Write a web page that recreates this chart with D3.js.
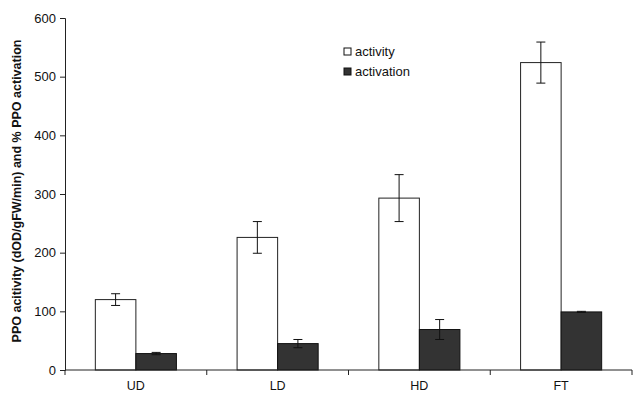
<!DOCTYPE html>
<html><head><meta charset="utf-8">
<script src="https://cdn.jsdelivr.net/npm/d3@7"></script>
<style>body{margin:0;background:#fff}text{font-family:Arial,"Liberation Sans",sans-serif}</style>
</head><body><svg id="c" width="633" height="394"></svg>
<script>
const categories = ["UD", "LD", "HD", "FT"];
const seriesNames = ["activity", "activation"];
const activity = [120, 226, 293, 524];
const activityErr = [10, 27, 40, 35];
const activation = [28, 45, 69, 99];
const activationErr = [2, 7, 17, 1];
const yTicks = [0, 100, 200, 300, 400, 500, 600];

const svg = d3.select("#c");
const m = {l: 65, r: 632, t: 18, b: 370};
const x = d3.scaleBand().domain(categories).range([m.l, m.r]).paddingInner(0.428).paddingOuter(0.214);
const xs = d3.scaleBand().domain(seriesNames).range([0, x.bandwidth()]);
const y = d3.scaleLinear().domain([0, 600]).range([m.b, m.t]);
const fills = {activity: "#ffffff", activation: "#333333"};
const strokes = {activity: "#222", activation: "#111"};
const data = {activity: [activity, activityErr], activation: [activation, activationErr]};

// y axis
const ya = svg.append("g").attr("transform", `translate(${m.l},0)`)
  .call(d3.axisLeft(y).tickValues(yTicks).tickSize(5).tickPadding(4));
ya.select(".domain").attr("stroke", "#222");
ya.selectAll(".tick line").attr("stroke", "#222");
ya.selectAll("text").attr("font-size", 13).attr("fill", "#111");

// bars
seriesNames.forEach(s => {
  const [vals, errs] = data[s];
  const g = svg.append("g");
  g.selectAll("rect").data(categories).join("rect")
    .attr("x", (c) => x(c) + xs(s))
    .attr("y", (c, i) => y(vals[i]))
    .attr("width", xs.bandwidth())
    .attr("height", (c, i) => y(0) - y(vals[i]))
    .attr("fill", fills[s]).attr("stroke", strokes[s]).attr("stroke-width", 1);
  categories.forEach((c, i) => {
    const cx = x(c) + xs(s) + xs.bandwidth() / 2;
    const y1 = y(vals[i] + errs[i]), y2 = y(vals[i] - errs[i]);
    g.append("line").attr("x1", cx).attr("x2", cx).attr("y1", y1).attr("y2", y2).attr("stroke", "#111");
    [y1, y2].forEach(yy => g.append("line").attr("x1", cx - 4.5).attr("x2", cx + 4.5)
      .attr("y1", yy).attr("y2", yy).attr("stroke", "#111"));
  });
});

// x axis
const step = x.step();
const xa = svg.append("g").attr("transform", `translate(0,${m.b})`);
xa.append("line").attr("x1", m.l).attr("x2", m.r).attr("y1", 0).attr("y2", 0).attr("stroke", "#222");
d3.range(categories.length + 1).forEach(i => {
  const tx = m.l + i * step;
  xa.append("line").attr("x1", tx).attr("x2", tx).attr("y1", 0).attr("y2", 5).attr("stroke", "#222");
});
xa.selectAll("text.cat").data(categories).join("text").attr("class", "cat")
  .attr("x", c => x(c) + x.bandwidth() / 2).attr("y", 20)
  .attr("text-anchor", "middle").attr("font-size", 12.5).attr("fill", "#111").text(c => c);

// y title
svg.append("text").attr("transform", `translate(21,191) rotate(-90)`)
  .attr("text-anchor", "middle").attr("font-size", 12.5).attr("font-weight", "bold").attr("fill", "#111")
  .text("PPO acitivity (dOD/gFW/min) and % PPO activation");

// legend
const lg = svg.append("g").attr("transform", "translate(344,48)");
seriesNames.forEach((s, i) => {
  lg.append("rect").attr("x", 0).attr("y", i * 20).attr("width", 7).attr("height", 7)
    .attr("fill", fills[s]).attr("stroke", "#111");
  lg.append("text").attr("x", 11).attr("y", i * 20 + 8).attr("font-size", 13).attr("fill", "#111").text(s);
});
</script></body></html>
